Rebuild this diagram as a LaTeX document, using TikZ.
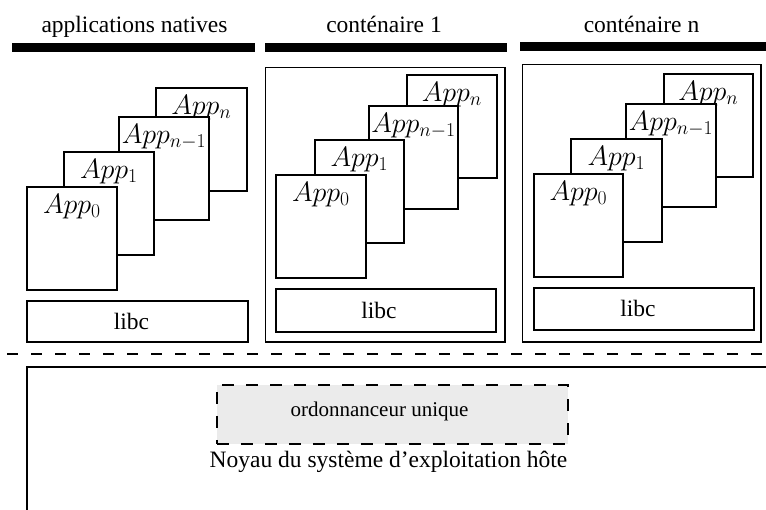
\RequirePackage{fix-cm}
\documentclass[tikz,border=0pt]{standalone}
\usepackage{fontspec}
\setmainfont{Liberation Serif}
\definecolor{schedgray}{HTML}{EBEBEB}
\tikzset{
  appbox/.style={draw, line width=1.8pt, fill=white, inner sep=0pt, anchor=north west,
                 minimum width=90pt, minimum height=103pt},
  libcbox/.style={draw, line width=1.8pt, fill=white, inner sep=0pt, anchor=north west,
                 minimum height=41pt},
  applbl/.style={anchor=base, inner sep=0pt, font=\fontsize{28}{32}\selectfont},
  txt/.style={anchor=base, inner sep=0pt, font=\fontsize{23.5}{28}\selectfont},
  bar/.style={fill=black, draw=none, inner sep=0pt, anchor=north west, minimum height=9pt},
  contbox/.style={draw, line width=1.5pt, inner sep=0pt, anchor=north west},
}
\begin{document}
\begin{tikzpicture}[x=1pt, y=-1pt]
\useasboundingbox (0,0) rectangle (766,509);
\clip (0,0) rectangle (766,509);

% headings
\node[txt] (h0) at (134.5,32.5) {applications natives};
\node[txt] (h1) at (384,32.5) {conténaire 1};
\node[txt] (h2) at (641.5,32.5) {conténaire n};
\node[bar, minimum width=243pt] (b0) at (12,43) {};
\node[bar, minimum width=242pt] (b1) at (265,43) {};
\node[bar, minimum width=250pt] (b2) at (520,42) {};

% container frames
\node[contbox, minimum width=239.5pt, minimum height=274.5pt] (c1) at (264.75,66.75) {};
\node[contbox, minimum width=238.5pt, minimum height=277.5pt] (c2) at (521.75,63.75) {};

% native apps
\node[appbox, minimum width=91pt] (na3) at (155,87) {};
\node[applbl] at ([yshift=-27pt]na3.north) {$App_n$};
\node[appbox] (na2) at (118,116) {};
\node[applbl] at ([yshift=-27pt]na2.north) {$App_{n-1}$};
\node[appbox] (na1) at (63,151) {};
\node[applbl] at ([yshift=-27pt]na1.north) {$App_1$};
\node[appbox] (na0) at (26,186) {};
\node[applbl] at ([yshift=-27pt]na0.north) {$App_0$};
\node[libcbox, minimum width=221pt] (nl) at (26,300) {};
\node[txt] at ([xshift=-6pt, yshift=-8pt]nl.center) {libc};

% container 1 apps
\node[appbox] (ca3) at (406,74) {};
\node[applbl] at ([yshift=-27pt]ca3.north) {$App_n$};
\node[appbox, minimum width=89pt] (ca2) at (368,105) {};
\node[applbl] at ([yshift=-27pt]ca2.north) {$App_{n-1}$};
\node[appbox, minimum width=89pt] (ca1) at (314,139) {};
\node[applbl] at ([yshift=-27pt]ca1.north) {$App_1$};
\node[appbox] (ca0) at (275,174) {};
\node[applbl] at ([yshift=-27pt]ca0.north) {$App_0$};
\node[libcbox, minimum width=220pt, minimum height=43pt] (cl) at (275,288) {};
\node[txt] at ([xshift=-7pt, yshift=-8pt]cl.center) {libc};

% container n apps
\node[appbox, minimum width=89pt] (da3) at (663,73) {};
\node[applbl] at ([yshift=-27pt]da3.north) {$App_n$};
\node[appbox] (da2) at (625,103) {};
\node[applbl] at ([yshift=-27pt]da2.north) {$App_{n-1}$};
\node[appbox, minimum width=91pt] (da1) at (570,138) {};
\node[applbl] at ([yshift=-27pt]da1.north) {$App_1$};
\node[appbox, minimum width=89pt] (da0) at (533,173) {};
\node[applbl] at ([yshift=-27pt]da0.north) {$App_0$};
\node[libcbox, minimum width=220pt, minimum height=42pt] (dl) at (533,287) {};
\node[txt] at ([xshift=-6pt, yshift=-8pt]dl.center) {libc};

% separator
\coordinate (sepL) at (7,354);
\coordinate (sepR) at (780,354);
\draw[line width=2.5pt, dash pattern=on 11pt off 13pt] (sepL) -- (sepR);

% kernel
\node[draw, line width=2pt, inner sep=0pt, anchor=north west, minimum width=900pt, minimum height=300pt] (kernel) at (26,366) {};
\node[draw, line width=1.8pt, dash pattern=on 12pt off 12pt, fill=schedgray, inner sep=0pt,
      anchor=north west, minimum width=351pt, minimum height=59pt] (sched) at (216,384) {};
\node[anchor=base, inner sep=0pt, font=\fontsize{21}{25}\selectfont] (schedtxt) at (379.5,416.7) {ordonnanceur unique};
\node[txt] (ktxt) at (388.5,467) {Noyau du système d’exploitation hôte};
\end{tikzpicture}
\end{document}
